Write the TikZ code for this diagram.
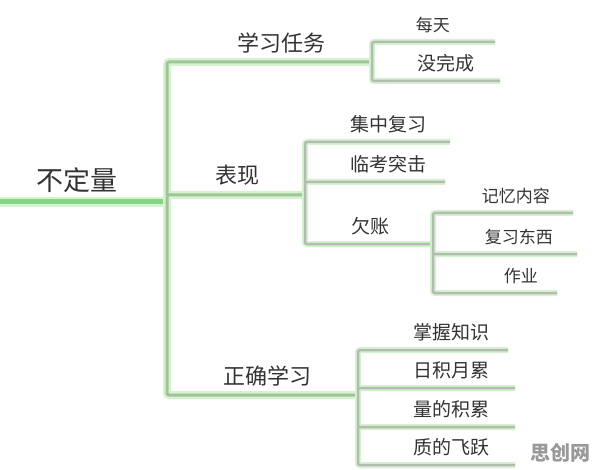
\documentclass[tikz,border=0pt]{standalone}
\usepackage{fontspec}
\newfontfamily\cjk{Noto Sans CJK SC}
\definecolor{rootc}{HTML}{86D486}
\definecolor{stem}{HTML}{A2C29A}
\definecolor{glow}{HTML}{D6F3D0}
\definecolor{twigc}{HTML}{B4BCB2}
\begin{document}
\begin{tikzpicture}[x=1pt,y=-1pt,
  word/.style={anchor=south east,text=black!80,inner ysep=9pt},
  root/.style={word,font=\cjk\fontsize{27}{27}\selectfont,inner xsep=49pt},
  big/.style={word,font=\cjk\fontsize{22}{22}\selectfont,inner xsep=46pt},
  mid/.style={word,font=\cjk\fontsize{19}{19}\selectfont},
  small/.style={word,font=\cjk\fontsize{17}{17}\selectfont},
  trunk/.style={line width=5pt,rootc,preaction={draw,line width=10pt,glow}},
  bough/.style={line width=3pt,stem,rounded corners=2pt,preaction={draw,line width=8pt,glow}},
  twig/.style={line width=2.5pt,twigc,rounded corners=2pt,preaction={draw,line width=6pt,glow}}]
\useasboundingbox[fill=white](0,0) rectangle (596,470);
\coordinate (edge) at (0,202);
\node[root] (bdl) at (167,202) {不定量};
\node[big] (rw) at (372,62) {学习任务};
\node[big,inner xsep=45pt] (bx) at (305,195) {表现};
\node[big] (zq) at (358,395) {正确学习};
\node[small,inner xsep=45pt] (mt) at (495,42) {每天};
\node[mid,inner xsep=25pt] (mwc) at (500,81) {没完成};
\node[mid,inner xsep=23pt] (jz) at (450,142) {集中复习};
\node[mid,inner xsep=18pt] (lk) at (445,182) {临考突击};
\node[mid,inner xsep=43pt] (qz) at (433,244) {欠账};
\foreach \t/\y/\e/\p [count=\i] in {记忆内容/213/573/23,复习东西/254/577/24,作业/293/557/19}
  {\node[small,inner xsep=\p pt] (qz\i) at (\e,\y) {\t};}
\foreach \t/\y/\e/\p [count=\i] in {掌握知识/350/508/18,日积月累/388/515/25,量的积累/427/515/25,质的飞跃/465/515/25}
  {\node[mid,inner xsep=\p pt] (zq\i) at (\e,\y) {\t};}
\node[font=\cjk\bfseries\fontsize{20}{20}\selectfont,text=black!40] (wm) at (560,453) {思创网};
\draw[trunk](edge)--(bdl.south east);
\draw[bough] foreach \n in {rw,bx,zq} {(bdl.south east)|-(\n.south east)};
\draw[twig] foreach \n in {mt,mwc} {(rw.south east)|-(\n.south east)};
\draw[twig] foreach \n in {jz,lk,qz} {(bx.south east)|-(\n.south east)};
\draw[twig] foreach \i in {1,2,3} {(qz.south east)|-(qz\i.south east)};
\draw[twig] foreach \i in {1,...,4} {(zq.south east)|-(zq\i.south east)};
\end{tikzpicture}
\end{document}
